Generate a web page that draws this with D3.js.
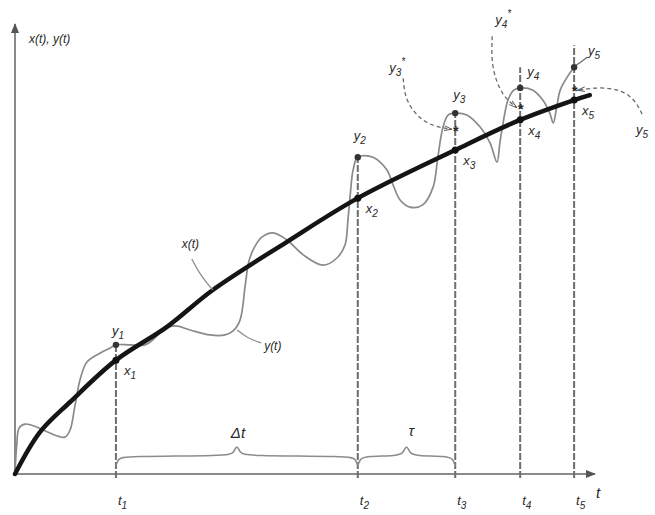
<!DOCTYPE html>
<html>
<head>
<meta charset="utf-8">
<script src="https://cdn.jsdelivr.net/npm/d3@7"></script>
<style>
  body { margin: 0; background: #fff; }
  text { font-family: "Liberation Sans", Arial, sans-serif; font-style: italic; fill: #2a2a2a; }
</style>
</head>
<body>
<div id="chart"></div>
<script>
// x(t) - the smooth process, pairs of [t, value]
var xCurve = [[0, 0], [4.3, 9.3], [9.5, 16.0], [17.4, 25.3], [26.2, 32.7], [34.1, 40.9],
  [46.9, 51.6], [59.1, 61.3], [75.9, 72.0], [87.1, 78.7], [96.4, 83.1], [99.1, 84.2]];

// y(t) - the disturbed process
var yCurve = [[0, 0.4], [0.3, 6.4], [0.7, 10.2], [1.7, 11.1], [3.8, 10.4], [6.0, 9.1],
  [8.6, 8.2], [9.5, 9.8], [10.3, 14.9], [11.2, 20.9], [12.4, 24.9], [14.7, 26.9],
  [16.4, 28.0], [17.4, 28.7], [19.8, 28.7], [22.4, 28.7], [24.1, 30.2], [25.5, 32.0],
  [27.6, 32.9], [30.2, 32.0], [33.6, 30.9], [36.2, 30.9], [37.6, 31.8], [38.8, 34.2],
  [39.7, 42.0], [40.3, 47.1], [41.2, 50.2], [42.6, 52.7], [44.5, 53.6], [46.9, 52.0],
  [49.7, 48.7], [53.1, 46.4], [55.5, 48.0], [56.9, 50.9], [57.4, 56.4], [57.8, 62.0],
  [58.3, 67.6], [59.1, 70.4], [61.7, 70.4], [64.1, 67.6], [65.2, 64.2], [66.4, 60.9],
  [68.1, 59.3], [70.3, 59.8], [72.1, 63.8], [72.9, 70.4], [73.8, 77.1], [74.7, 79.8],
  [75.9, 80.2], [77.9, 79.8], [80.2, 77.1], [81.9, 73.6], [83.1, 69.3], [83.6, 73.6],
  [84.1, 77.6], [85.0, 83.1], [86.0, 85.3], [87.1, 85.8], [89.3, 85.3], [91.0, 83.1],
  [92.2, 80.2], [92.8, 78.0], [93.4, 81.6], [94.0, 85.3], [95.2, 88.2], [96.4, 90.4]];

// sampling moments and the values read there
var sampleT = [17.4, 59.1, 75.9, 87.1, 96.4];
var sampleX = [25.3, 61.3, 72.0, 78.7, 83.1];
var sampleY = [28.7, 70.4, 80.2, 85.8, 90.4];
var guideTop = [28.7, 70.4, 80.2, 90.4, 95.3];
var tickNames = ["1", "2", "3", "4", "5"];

// corrected values y3*, y4*, y5*
var starIndex = [2, 3, 4];
var starY = [76.4, 81.3, 85.3];

var width = 655, height = 515;

var svg = d3.select("#chart").append("svg")
  .attr("width", width)
  .attr("height", height);

var xScale = d3.scaleLinear().domain([0, 100]).range([15, 595]);
var yScale = d3.scaleLinear().domain([0, 100]).range([474, 24]);

var defs = svg.append("defs");
defs.append("marker")
  .attr("id", "arrow")
  .attr("viewBox", "0 0 10 10")
  .attr("refX", 9).attr("refY", 5)
  .attr("markerWidth", 5).attr("markerHeight", 5)
  .attr("orient", "auto")
  .append("path")
  .attr("d", "M0,1 L10,5 L0,9 Z")
  .attr("fill", "#555");

defs.append("marker")
  .attr("id", "tip")
  .attr("viewBox", "0 0 10 10")
  .attr("refX", 9).attr("refY", 5)
  .attr("markerWidth", 6).attr("markerHeight", 6)
  .attr("orient", "auto")
  .append("path")
  .attr("d", "M0,2 L10,5 L0,8")
  .attr("fill", "none")
  .attr("stroke", "#555")
  .attr("stroke-width", 1.2);

// label with optional subscript / superscript
function Label(g, x, y, base, sub, sup, size) {
  size = size || 13;
  var t = g.append("text")
    .attr("x", x)
    .attr("y", y)
    .attr("font-size", size + "px");
  t.append("tspan").text(base);
  if (sub) {
    t.append("tspan")
      .attr("font-size", (size - 3) + "px")
      .attr("dy", 4)
      .text(sub);
  }
  if (sup) {
    t.append("tspan")
      .attr("font-size", (size - 3) + "px")
      .attr("dy", sub ? -11 : -6)
      .text(sup);
  }
  return t;
}

// 分组
var gAxis = svg.append("g");
var gGuide = svg.append("g");
var gBrace = svg.append("g");
var gCurve = svg.append("g");
var gPoint = svg.append("g");
var gText = svg.append("g");

// axes
gAxis.append("line")
  .attr("x1", xScale(0)).attr("y1", yScale(0))
  .attr("x2", xScale(100)).attr("y2", yScale(0))
  .attr("stroke", "#8a8a8a")
  .attr("stroke-width", 2)
  .attr("marker-end", "url(#arrow)");
gAxis.append("line")
  .attr("x1", xScale(0)).attr("y1", yScale(0))
  .attr("x2", xScale(0)).attr("y2", yScale(100))
  .attr("stroke", "#8a8a8a")
  .attr("stroke-width", 2)
  .attr("marker-end", "url(#arrow)");

var axisLabel = gText.append("text")
  .attr("x", xScale(0) + 14)
  .attr("y", yScale(100) + 19)
  .attr("font-size", "12px");
axisLabel.text("x(t), y(t)");

gText.append("text")
  .attr("x", xScale(100) + 1)
  .attr("y", yScale(0) + 24)
  .attr("font-size", "15px")
  .text("t");

// vertical guides at the sampling moments
gGuide.selectAll("line")
  .data(sampleT)
  .enter()
  .append("line")
  .attr("x1", function(d) { return xScale(d); })
  .attr("x2", function(d) { return xScale(d); })
  .attr("y1", yScale(0) + 4)
  .attr("y2", function(d, i) { return yScale(guideTop[i]); })
  .attr("stroke", "#6e6e6e")
  .attr("stroke-width", 2)
  .attr("stroke-dasharray", "7,2");

// tick names t1 ... t5
tickNames.forEach(function(n, i) {
  Label(gText, xScale(sampleT[i]) + 2, yScale(0) + 31, "t", n, null, 13);
});

// braces for Δt and τ
function Brace(x1, x2, y) {
  var mid = (x1 + x2) / 2;
  var pts = [[x1, y + 10], [x1 + 2, y + 3], [x1 + 8, y], [mid - 9, y], [mid - 3, y - 3],
    [mid, y - 12], [mid + 3, y - 3], [mid + 9, y], [x2 - 8, y], [x2 - 2, y + 3], [x2, y + 10]];
  return d3.line().curve(d3.curveBasis)(pts);
}
var braceY = yScale(0) - 18;
gBrace.append("path")
  .attr("d", Brace(xScale(sampleT[0]), xScale(sampleT[1]), braceY))
  .attr("fill", "none")
  .attr("stroke", "#8c8c8c")
  .attr("stroke-width", 1.6);
gBrace.append("path")
  .attr("d", Brace(xScale(sampleT[1]), xScale(sampleT[2]), braceY))
  .attr("fill", "none")
  .attr("stroke", "#8c8c8c")
  .attr("stroke-width", 1.6);

gText.append("text")
  .attr("x", (xScale(sampleT[0]) + xScale(sampleT[1])) / 2 - 6)
  .attr("y", braceY - 18)
  .attr("font-size", "15px")
  .text("Δt");
gText.append("text")
  .attr("x", (xScale(sampleT[1]) + xScale(sampleT[2])) / 2 + 2)
  .attr("y", braceY - 20)
  .attr("font-size", "15px")
  .text("τ");

// curves
var line = d3.line()
  .x(function(d) { return xScale(d[0]); })
  .y(function(d) { return yScale(d[1]); })
  .curve(d3.curveCatmullRom.alpha(0.5));

gCurve.append("path")
  .attr("d", line(yCurve))
  .attr("fill", "none")
  .attr("stroke", "#8a8a8a")
  .attr("stroke-width", 1.7);

gCurve.append("path")
  .attr("d", line(xCurve))
  .attr("fill", "none")
  .attr("stroke", "#151515")
  .attr("stroke-width", 4.5)
  .attr("stroke-linecap", "round");

// points x_i on x(t) and y_i on y(t)
gPoint.selectAll("circle.x")
  .data(sampleT)
  .enter()
  .append("circle")
  .attr("cx", function(d) { return xScale(d); })
  .attr("cy", function(d, i) { return yScale(sampleX[i]); })
  .attr("r", 3.5)
  .attr("fill", "#111");

gPoint.selectAll("circle.y")
  .data(sampleT)
  .enter()
  .append("circle")
  .attr("cx", function(d) { return xScale(d); })
  .attr("cy", function(d, i) { return yScale(sampleY[i]); })
  .attr("r", 3.2)
  .attr("fill", "#333");

// asterisks for corrected values
starIndex.forEach(function(k, i) {
  gText.append("text")
    .attr("x", xScale(sampleT[k]))
    .attr("y", yScale(starY[i]) + 6)
    .attr("text-anchor", "middle")
    .attr("font-size", "15px")
    .attr("font-style", "normal")
    .attr("font-weight", "bold")
    .text("*");
});

// x_i and y_i labels
sampleT.forEach(function(t, i) {
  Label(gText, xScale(t) + 8, yScale(sampleX[i]) + 15, "x", tickNames[i], null, 13);
});
var yLabelOffset = [[-4, -10], [-4, -17], [-2, -14], [7, -12], [14, -12]];
sampleT.forEach(function(t, i) {
  Label(gText, xScale(t) + yLabelOffset[i][0], yScale(sampleY[i]) + yLabelOffset[i][1], "y", tickNames[i], null, 13);
});

// leaders for curve names
var leader = d3.line().curve(d3.curveBasis);
function Anchor(t, v) { return [xScale(t), yScale(v)]; }

var ax = Anchor(34.1, 40.9);
gCurve.append("path")
  .attr("d", leader([[ax[0] - 21, ax[1] - 31], [ax[0] - 12, ax[1] - 14], [ax[0], ax[1]]]))
  .attr("fill", "none").attr("stroke", "#8c8c8c").attr("stroke-width", 1.3);
gText.append("text")
  .attr("x", ax[0] - 31).attr("y", ax[1] - 42)
  .attr("font-size", "12px")
  .text("x(t)");

var ay = Anchor(38.3, 32.0);
gCurve.append("path")
  .attr("d", leader([[ay[0], ay[1]], [ay[0] + 10, ay[1] + 8], [ay[0] + 24, ay[1] + 13]]))
  .attr("fill", "none").attr("stroke", "#8c8c8c").attr("stroke-width", 1.3);
gText.append("text")
  .attr("x", ay[0] + 27).attr("y", ay[1] + 20)
  .attr("font-size", "12px")
  .text("y(t)");

// dashed leaders for the starred values
var s3 = Anchor(sampleT[2], starY[0]);
gCurve.append("path")
  .attr("d", leader([[s3[0] - 52, s3[1] - 52], [s3[0] - 50, s3[1] - 28], [s3[0] - 30, s3[1] - 5], [s3[0] - 4, s3[1] - 1]]))
  .attr("fill", "none").attr("stroke", "#6a6a6a").attr("stroke-width", 1.3)
  .attr("stroke-dasharray", "4,3")
  .attr("marker-end", "url(#tip)");
Label(gText, s3[0] - 66, s3[1] - 58, "y", "3", "*", 13);

var s4 = Anchor(sampleT[3], starY[1]);
gCurve.append("path")
  .attr("d", leader([[s4[0] - 28, s4[1] - 72], [s4[0] - 29, s4[1] - 40], [s4[0] - 18, s4[1] - 12], [s4[0] - 4, s4[1] - 1]]))
  .attr("fill", "none").attr("stroke", "#6a6a6a").attr("stroke-width", 1.3)
  .attr("stroke-dasharray", "4,3")
  .attr("marker-end", "url(#tip)");
Label(gText, s4[0] - 25, s4[1] - 84, "y", "4", "*", 13);

var s5 = Anchor(sampleT[4], starY[2]);
gCurve.append("path")
  .attr("d", leader([[s5[0] + 68, s5[1] + 24], [s5[0] + 58, s5[1] + 4], [s5[0] + 32, s5[1] - 4], [s5[0] + 4, s5[1]]]))
  .attr("fill", "none").attr("stroke", "#6a6a6a").attr("stroke-width", 1.3)
  .attr("stroke-dasharray", "4,3")
  .attr("marker-end", "url(#tip)");
Label(gText, s5[0] + 62, s5[1] + 44, "y", "5", null, 13);

// short leader to the upper y5 label
var p5 = Anchor(sampleT[4], sampleY[4]);
gCurve.append("path")
  .attr("d", leader([[p5[0] + 2, p5[1] - 2], [p5[0] + 8, p5[1] - 6], [p5[0] + 13, p5[1] - 10]]))
  .attr("fill", "none").attr("stroke", "#6a6a6a").attr("stroke-width", 1.3);
</script>
</body>
</html>
